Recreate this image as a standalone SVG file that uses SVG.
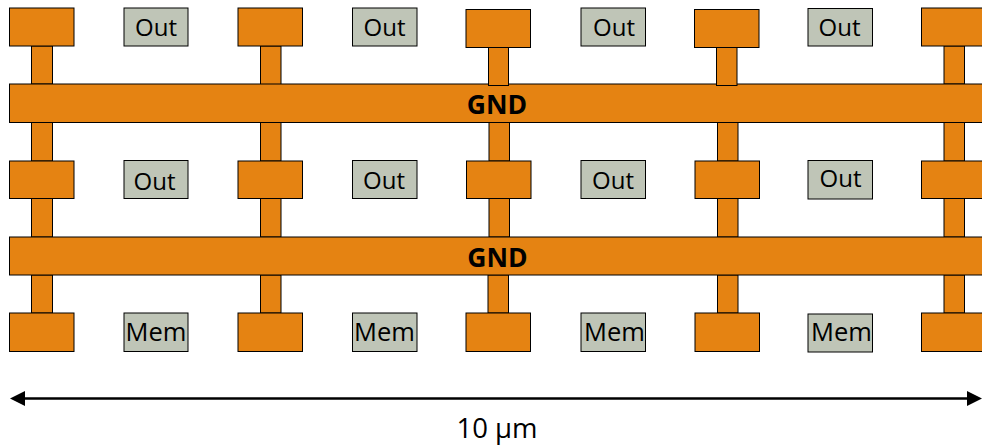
<svg xmlns="http://www.w3.org/2000/svg" width="982" height="447" viewBox="0 0 982 447">
<style>
.o{fill:#e58312;stroke:#000;stroke-width:1}
.g{fill:#bfc5b7;stroke:#000;stroke-width:1}
text{font-family:"Open Sans","Noto Sans","Liberation Sans",sans-serif;font-size:24px;fill:#000;text-anchor:middle}
.b{font-weight:700;font-size:26.500px}
.s{font-size:27.500px}
.m{font-size:25.500px}
.d{fill:#000;stroke:none}
</style>
<g id="connectors">
<path d="M23 398.5H970" stroke="#000" stroke-width="2.400" fill="none"/>
<path class="d" d="M25 391L10 398.500L25 406Z"/>
<path class="d" d="M967 391L982 398.500L967 406Z"/>
</g>
<g id="col1">
<rect class="o" x="31.500" y="46" width="21" height="38"/><rect class="o" x="31.500" y="122.500" width="21" height="38.500"/><rect class="o" x="31.500" y="198.500" width="21" height="38.500"/><rect class="o" x="31.500" y="275" width="21" height="38"/>
<rect class="o" x="9.500" y="8" width="64.500" height="38"/><rect class="o" x="9.500" y="161" width="64.500" height="37.500"/><rect class="o" x="9.500" y="313" width="64.500" height="38.500"/>
</g>
<g id="col2">
<rect class="o" x="260.500" y="46" width="20.500" height="39"/><rect class="o" x="260.500" y="122.500" width="20.500" height="38.500"/><rect class="o" x="260.500" y="198.500" width="20.500" height="38.500"/><rect class="o" x="260.500" y="275" width="20.500" height="38"/>
<rect class="o" x="238" y="8" width="64.500" height="38"/><rect class="o" x="238" y="161" width="64.500" height="37.500"/><rect class="o" x="238" y="313" width="64.500" height="38.500"/>
</g>
<g id="col3">
<rect class="o" x="489" y="122.500" width="20.500" height="38.500"/><rect class="o" x="489" y="198.500" width="20.500" height="38.500"/><rect class="o" x="488" y="275" width="20.500" height="38"/>
<rect class="o" x="466" y="9.500" width="64.500" height="38"/><rect class="o" x="466.500" y="161" width="64.500" height="37.500"/><rect class="o" x="466" y="313" width="64.500" height="38.500"/>
</g>
<g id="col4">
<rect class="o" x="717.500" y="122.500" width="20.500" height="38.500"/><rect class="o" x="717.500" y="198.500" width="20.500" height="38.500"/><rect class="o" x="717.500" y="275" width="20.500" height="38"/>
<rect class="o" x="694.500" y="9.500" width="64.500" height="38"/><rect class="o" x="695" y="161" width="64.500" height="37.500"/><rect class="o" x="695" y="313" width="64.500" height="38.500"/>
</g>
<g id="col5">
<rect class="o" x="944" y="46" width="20.500" height="38"/><rect class="o" x="944" y="122.500" width="20.500" height="38.500"/><rect class="o" x="944" y="198.500" width="20.500" height="38.500"/><rect class="o" x="944" y="275" width="20.500" height="38"/>
<rect class="o" x="921.500" y="8" width="65" height="38"/><rect class="o" x="921.500" y="161" width="65" height="37.500"/><rect class="o" x="921.500" y="313" width="65" height="38.500"/>
</g>
<g id="gnd1"><rect class="o" x="9.500" y="84" width="980" height="38.500"/><text class="b" x="497" y="114">GND</text></g>
<g id="gnd2"><rect class="o" x="9.500" y="237" width="980" height="38"/><text class="b" x="497.500" y="266.500">GND</text></g>
<g id="stems-over">
<rect class="o" x="488.500" y="47.500" width="20" height="38"/>
<rect class="o" x="716.500" y="47.500" width="20.500" height="38"/>
</g>
<g id="out1"><rect class="g" x="124" y="8" width="64" height="38"/><text x="156" y="36">Out</text></g>
<g id="out2"><rect class="g" x="352.500" y="8" width="64.500" height="38"/><text x="384.500" y="36">Out</text></g>
<g id="out3"><rect class="g" x="581" y="8" width="64.500" height="38"/><text x="614" y="36">Out</text></g>
<g id="out4"><rect class="g" x="808" y="8.500" width="64.500" height="37.500"/><text x="839.500" y="36">Out</text></g>
<g id="out5"><rect class="g" x="124" y="160.500" width="64" height="38"/><text x="154.500" y="190">Out</text></g>
<g id="out6"><rect class="g" x="352.500" y="160.500" width="64.500" height="38"/><text x="384" y="188.500">Out</text></g>
<g id="out7"><rect class="g" x="581" y="160.500" width="64.500" height="38"/><text x="613" y="188.500">Out</text></g>
<g id="out8"><rect class="g" x="808" y="160.500" width="64.500" height="38.500"/><text x="840.500" y="187">Out</text></g>
<g id="mem1"><rect class="g" x="124" y="313" width="64" height="38.500"/><text class="m" x="156" y="341">Mem</text></g>
<g id="mem2"><rect class="g" x="352.500" y="313" width="64.500" height="38.500"/><text class="m" x="384.500" y="341">Mem</text></g>
<g id="mem3"><rect class="g" x="581" y="313" width="64.500" height="38.500"/><text class="m" x="614.500" y="341">Mem</text></g>
<g id="mem4"><rect class="g" x="808" y="314" width="64.500" height="38"/><text class="m" x="841.500" y="341">Mem</text></g>
<text id="scale" class="s" x="497" y="437.500">10 µm</text>
</svg>
